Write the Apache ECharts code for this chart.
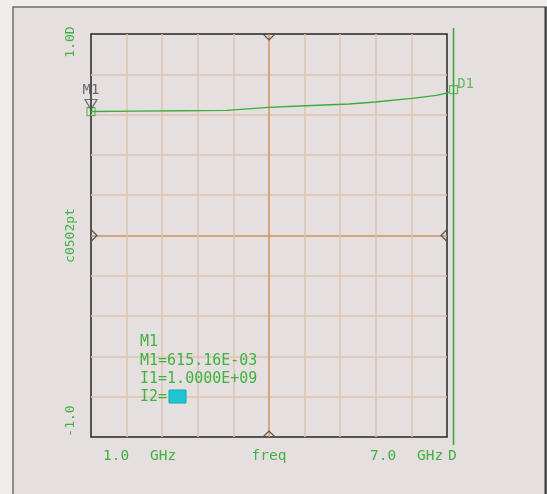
<!DOCTYPE html>
<html>
<head>
<meta charset="utf-8">
<script src="https://cdn.jsdelivr.net/npm/echarts@6/dist/echarts.min.js"></script>
<style>
  html, body { margin: 0; padding: 0; background: #f1eded; }
  #chart { width: 547px; height: 494px; }
</style>
</head>
<body>
<div id="chart"></div>
<script>
// Swept response of c0502pt versus frequency (GHz)
const freqGHz = [1.0, 1.75, 2.5, 3.29, 3.99, 4.52, 5.35, 5.79, 6.41, 6.82, 7.0, 7.11];
const c0502pt = [0.6152, 0.6170, 0.6190, 0.6208, 0.6357, 0.6427, 0.6526, 0.6625, 0.6804, 0.6953, 0.7072, 0.7236];

// Axis annotations
const yTopLabel = '1.0D';
const yBottomLabel = '-1.0';
const yName = 'c0502pt';
const xStartLabel = ['1.0', 'GHz'];
const xName = 'freq';
const xEndLabel = ['7.0', 'GHz', 'D'];

// Marker readout block
const readoutLines = ['M1', 'M1=615.16E-03', 'I1=1.0000E+09', 'I2='];
const markerName = 'M1';
const deltaName = 'D1';

(function () {
  const GREEN = '#3aae3a';
  const TEXT_GREEN = '#3fb23f';
  const GRID = '#dcc5b3';
  const GRID_CENTER = '#d0935a';
  const MONO = '"DejaVu Sans Mono", "Liberation Mono", monospace';

  const chart = echarts.init(document.getElementById('chart'), null, { renderer: 'canvas' });

  const gridColors = [GRID, GRID, GRID, GRID, GRID_CENTER, GRID, GRID, GRID, GRID];
  const curve = freqGHz.map((f, i) => [f, c0502pt[i]]);
  const first = curve[0];
  const last = curve[curve.length - 1];

  chart.setOption({
    backgroundColor: '#f1eded',
    animation: false,
    grid: {
      left: 91, top: 34, right: 100, bottom: 57,
      show: true, borderColor: '#262626', borderWidth: 1.5,
      backgroundColor: 'transparent'
    },
    xAxis: [
      { type: 'value', min: 1, max: 7, show: false },
      {
        type: 'value', min: 0, max: 10, interval: 1, position: 'top',
        axisLine: { show: false }, axisTick: { show: false }, axisLabel: { show: false },
        splitLine: { show: true, showMinLine: false, showMaxLine: false,
          lineStyle: { color: gridColors, width: 1.5 } }
      }
    ],
    yAxis: [{
      type: 'value', min: -1, max: 1, interval: 0.2,
      axisLine: { show: false }, axisTick: { show: false }, axisLabel: { show: false },
      splitLine: { show: true, showMinLine: false, showMaxLine: false,
        lineStyle: { color: gridColors, width: 1.5 } }
    }],
    series: [
      {
        name: yName, type: 'line', xAxisIndex: 0, yAxisIndex: 0,
        data: curve, showSymbol: false, clip: false, z: 5,
        lineStyle: { color: GREEN, width: 1.4 }
      },
      {
        // M1 marker box on the trace
        type: 'scatter', xAxisIndex: 0, data: [first], clip: false, z: 6,
        symbol: 'rect', symbolSize: 8,
        itemStyle: { color: 'rgba(0,0,0,0)', borderColor: GREEN, borderWidth: 1.2 }
      },
      {
        // M1 pointer triangle with its name
        type: 'scatter', xAxisIndex: 0, data: [first], clip: false, z: 6,
        symbol: 'triangle', symbolRotate: 180, symbolSize: [12, 10], symbolOffset: [0, -7],
        itemStyle: { color: 'rgba(0,0,0,0)', borderColor: '#505050', borderWidth: 1.2 },
        label: { show: true, position: 'top', distance: 2, formatter: markerName,
          color: '#4a4a4a', fontFamily: MONO, fontSize: 14 }
      },
      {
        // D1 marker at the sweep end
        type: 'scatter', xAxisIndex: 0, data: [last], clip: false, z: 6,
        symbol: 'rect', symbolSize: 8,
        itemStyle: { color: 'rgba(0,0,0,0)', borderColor: GREEN, borderWidth: 1.2 },
        label: { show: true, position: 'right', distance: -1, offset: [0, -5], formatter: deltaName,
          color: TEXT_GREEN, fontFamily: MONO, fontSize: 14 }
      }
    ]
  });

  // Decorations placed from the axes' own pixel mapping
  const px = (x, y) => chart.convertToPixel({ xAxisIndex: 0, yAxisIndex: 0 }, [x, y]);
  const tl = px(1, 1), br = px(7, -1);
  const boxL = tl[0], boxT = tl[1], boxR = br[0], boxB = br[1];
  const mid = px(4, 0);
  const cx = mid[0], cy = mid[1];
  const dX = px(last[0], 0)[0];

  const chev = (pts) => ({ type: 'polyline', shape: { points: pts }, z: 20,
    style: { stroke: '#555', lineWidth: 1.2, fill: null } });
  const txt = (text, x, y, opts) => ({ type: 'text', z: 20,
    style: Object.assign({ text, x, y, fill: TEXT_GREEN, font: '14px ' + MONO,
      verticalAlign: 'middle' }, opts || {}) });
  const rot = (text, y) => ({ type: 'text', z: 20, x: 71, y, rotation: Math.PI / 2,
    style: { text, fill: TEXT_GREEN, font: '13px ' + MONO, align: 'center', verticalAlign: 'middle' } });

  const elements = [
    // outer panel
    { type: 'rect', z: -10, shape: { x: 13, y: 7, width: 533, height: 500 },
      style: { fill: '#e6dfdf', stroke: '#707070', lineWidth: 1.5 } },
    { type: 'line', z: -9, shape: { x1: 545.5, y1: 7, x2: 545.5, y2: 494 },
      style: { stroke: '#3c3c3c', lineWidth: 2 } },
    // centre chevrons on each edge
    chev([[cx - 6, boxT], [cx, boxT + 6], [cx + 6, boxT]]),
    chev([[cx - 6, boxB], [cx, boxB - 6], [cx + 6, boxB]]),
    chev([[boxL, cy - 6], [boxL + 6, cy], [boxL, cy + 6]]),
    chev([[boxR, cy - 6], [boxR - 6, cy], [boxR, cy + 6]]),
    // delta marker line
    { type: 'line', z: 4, shape: { x1: dX, y1: boxT - 6, x2: dX, y2: boxB + 8 },
      style: { stroke: '#2ea82e', lineWidth: 1.5 } },
    // y annotations (rotated)
    rot(yTopLabel, 42),
    rot(yName, cy),
    rot(yBottomLabel, 421),
    // x annotations
    txt(xStartLabel[0], 103, 456, { font: '14.5px ' + MONO }),
    txt(xStartLabel[1], 150, 456, { font: '14.5px ' + MONO }),
    txt(xName, cx, 456, { font: '14.5px ' + MONO, align: 'center' }),
    txt(xEndLabel[0], 370, 456, { font: '14.5px ' + MONO }),
    txt(xEndLabel[1], 417, 456, { font: '14.5px ' + MONO }),
    txt(xEndLabel[2], 448, 456, { font: '14.5px ' + MONO }),
    // readout block
    txt(readoutLines[0], 140, 342, { font: '15px ' + MONO }),
    txt(readoutLines[1], 140, 361, { font: '15px ' + MONO }),
    txt(readoutLines[2], 140, 379, { font: '15px ' + MONO }),
    txt(readoutLines[3], 140, 397, { font: '15px ' + MONO }),
    { type: 'rect', z: 20, shape: { x: 169, y: 390, width: 17, height: 13 },
      style: { fill: '#1fc6d2', stroke: '#15a9b4', lineWidth: 1 } }
  ];

  chart.setOption({ graphic: { elements } });
})();
</script>
</body>
</html>
